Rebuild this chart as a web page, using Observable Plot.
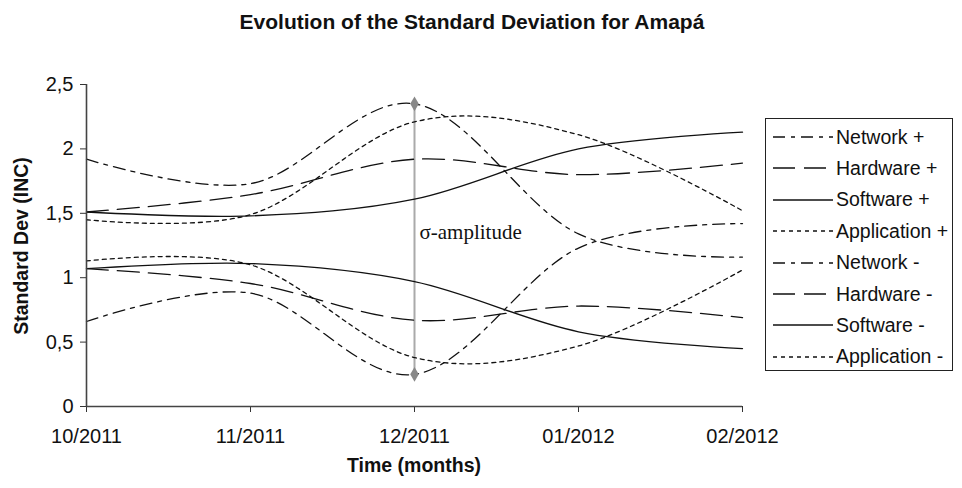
<!DOCTYPE html>
<html>
<head>
<meta charset="utf-8">
<script src="https://cdn.jsdelivr.net/npm/d3@7"></script>
<script src="https://cdn.jsdelivr.net/npm/@observablehq/plot@0.6"></script>
<style>
  html, body { margin: 0; padding: 0; background: #fff; }
  #wrap { position: relative; width: 962px; height: 488px; font-family: "Liberation Sans", Arial, sans-serif; color: #111; }
  #title { position: absolute; top: 10px; left: 0; width: 944px; text-align: center; font-weight: bold; font-size: 21px; }
  #chart { position: absolute; top: 45px; left: 0; }
  #xtitle { position: absolute; top: 454px; left: 86px; width: 656px; text-align: center; font-weight: bold; font-size: 19.5px; }
  #ytitle { position: absolute; left: 21px; top: 246px; transform: translate(-50%, -50%) rotate(-90deg); white-space: nowrap; font-weight: bold; font-size: 19.5px; }
  #legend { position: absolute; left: 765px; top: 118px; width: 188px; height: 253px; border: 1px solid #222; box-sizing: border-box; background: #fff; }
  .row { position: absolute; left: 0; height: 24px; display: flex; align-items: center; font-size: 19.5px; white-space: nowrap; }
  .row svg { margin-left: 7px; margin-right: 3px; }
</style>
</head>
<body>
<div id="wrap">
  <div id="title">Evolution of the Standard Deviation for Amapá</div>
  <div id="chart"></div>
  <div id="xtitle">Time (months)</div>
  <div id="ytitle">Standard Dev (INC)</div>
  <div id="legend"></div>
</div>
<script>
// ---- data ----
const months = ["10/2011", "11/2011", "12/2011", "01/2012", "02/2012"];
const seriesNames = ["Network +", "Hardware +", "Software +", "Application +",
                     "Network -", "Hardware -", "Software -", "Application -"];
const networkPlus      = [1.92, 1.73, 2.35, 1.34, 1.16];
const hardwarePlus     = [1.51, 1.645, 1.92, 1.80, 1.89];
const softwarePlus     = [1.51, 1.48, 1.61, 2.00, 2.13];
const applicationPlus  = [1.45, 1.49, 2.21, 2.11, 1.52];
const networkMinus     = [0.66, 0.88, 0.25, 1.23, 1.42];
const hardwareMinus    = [1.07, 0.955, 0.67, 0.78, 0.69];
const softwareMinus    = [1.07, 1.11, 0.97, 0.58, 0.45];
const applicationMinus = [1.13, 1.10, 0.38, 0.47, 1.06];
const yTicks = [0, 0.5, 1, 1.5, 2, 2.5];
const amplitudeMonth = "12/2011";
const amplitudeRange = [0.25, 2.35];
const amplitudeLabel = "σ-amplitude";

// ---- styles ----
const dashes = {Network: "12,6,4,6", Hardware: "22,9", Software: null, Application: "4,4"};
const seriesValues = [networkPlus, hardwarePlus, softwarePlus, applicationPlus,
                      networkMinus, hardwareMinus, softwareMinus, applicationMinus];
const series = seriesNames.map((name, k) => ({
  name,
  dash: dashes[name.split(" ")[0]],
  data: months.map((m, i) => ({i, v: seriesValues[k][i]}))
}));
const ampIndex = months.indexOf(amplitudeMonth);

const lineMarks = series.map(s => Plot.line(s.data, {
  x: "i", y: "v", curve: "cardinal", stroke: "#111", strokeWidth: 1.3,
  strokeDasharray: s.dash || undefined
}));

const chart = Plot.plot({
  width: 962,
  height: 443,
  marginTop: 39,
  marginBottom: 82,
  marginLeft: 86,
  marginRight: 220,
  style: {fontSize: "20px", fontFamily: "'Liberation Sans', Arial, sans-serif", color: "#111", background: "transparent"},
  x: {domain: [0, months.length - 1]},
  y: {domain: [0, 2.5]},
  marks: [
    Plot.axisY(yTicks, {tickSize: 6, tickPadding: 7, tickFormat: d => String(d).replace(".", ","), label: null, stroke: "#333"}),
    Plot.axisX(d3.range(months.length), {tickSize: 6, tickPadding: 16, tickFormat: i => months[i], label: null, stroke: "#333"}),
    Plot.ruleX([ampIndex], {y1: amplitudeRange[0], y2: amplitudeRange[1], stroke: "#aaa", strokeWidth: 2}),
    ...lineMarks,
    Plot.dot(amplitudeRange, {x: () => ampIndex, y: d => d, symbol: "diamond", r: 4.5, fill: "#888", stroke: null}),
    Plot.text([amplitudeLabel], {x: ampIndex + 0.03, y: 1.35, text: d => d, textAnchor: "start",
      fontFamily: "'Liberation Serif', 'Times New Roman', serif", fontSize: 21, fill: "#111"}),
    Plot.ruleY([0], {stroke: "#444", strokeWidth: 1.6}),
    Plot.ruleX([0], {stroke: "#444", strokeWidth: 1.6})
  ]
});
document.getElementById("chart").append(chart);

// ---- legend ----
const legend = d3.select("#legend");
const rowTop0 = 6, rowStep = 31.4;
series.forEach((s, k) => {
  const row = legend.append("div").attr("class", "row").style("top", (rowTop0 + k * rowStep) + "px");
  const svg = row.append("svg").attr("width", 60).attr("height", 10);
  svg.append("line").attr("x1", 0).attr("x2", 60).attr("y1", 5).attr("y2", 5)
    .attr("stroke", "#111").attr("stroke-width", 1.5)
    .attr("stroke-dasharray", s.dash || null);
  row.append("span").text(s.name);
});
</script>
</body>
</html>
